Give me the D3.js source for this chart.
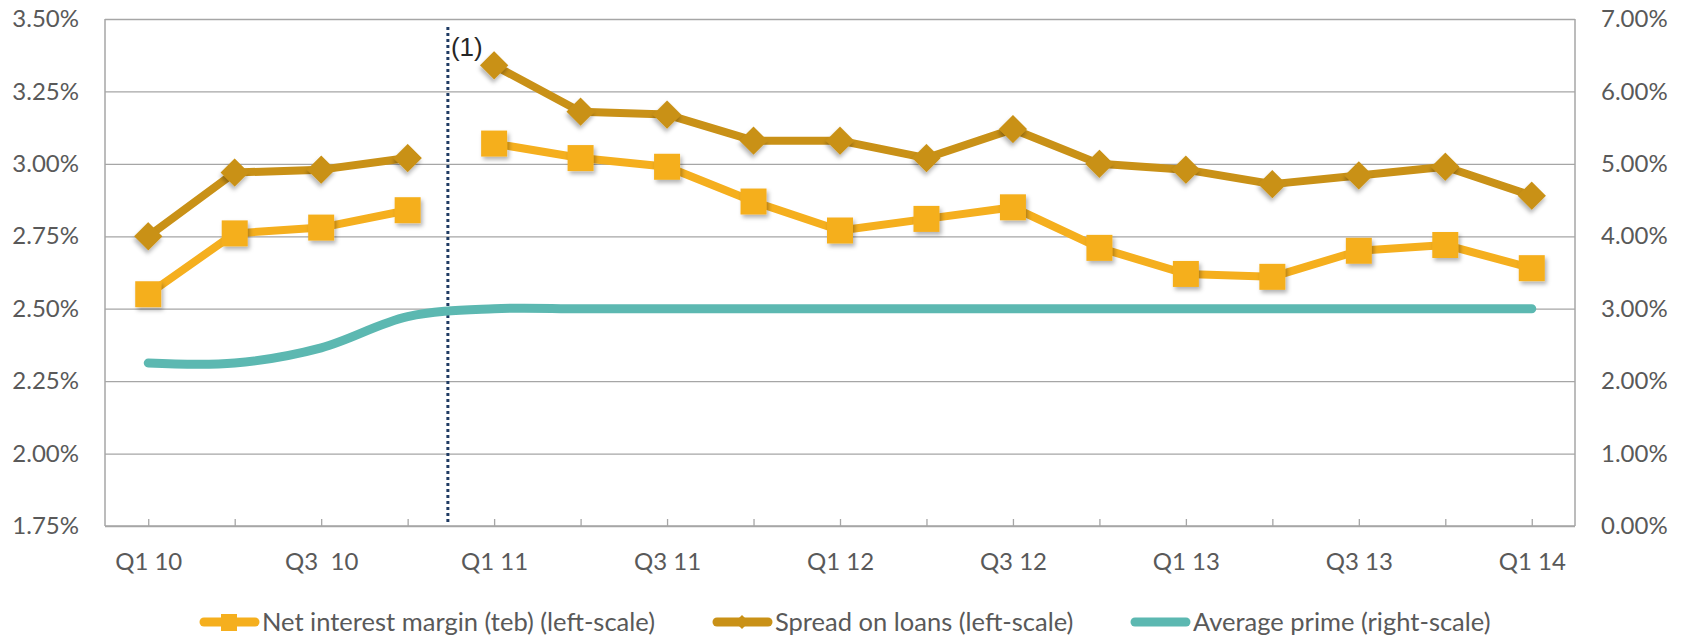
<!DOCTYPE html>
<html>
<head>
<meta charset="utf-8">
<script src="https://cdnjs.cloudflare.com/ajax/libs/d3/7.8.5/d3.min.js"></script>
<style>
  body { margin: 0; background: #fff; }
  text { font-family: Lato, "Open Sans", sans-serif; }
</style>
</head>
<body>
<script>
// chart values
const quarters = ["Q1 10","Q2 10","Q3 10","Q4 10","Q1 11","Q2 11","Q3 11","Q4 11","Q1 12","Q2 12","Q3 12","Q4 12","Q1 13","Q2 13","Q3 13","Q4 13","Q1 14"];
const tickLabels = ["Q1 10","","Q3  10","","Q1 11","","Q3 11","","Q1 12","","Q3 12","","Q1 13","","Q3 13","","Q1 14"];
const netInterestMargin = [2.55,2.76,2.78,2.84,3.07,3.02,2.99,2.87,2.77,2.81,2.85,2.71,2.62,2.61,2.70,2.72,2.64];
const spreadOnLoans = [2.75,2.97,2.98,3.02,3.34,3.18,3.17,3.08,3.08,3.02,3.12,3.00,2.98,2.93,2.96,2.99,2.89];
const averagePrime = [2.25,2.25,2.46,2.89,3.00,3.00,3.00,3.00,3.00,3.00,3.00,3.00,3.00,3.00,3.00,3.00,3.00];
const leftTicks = [1.75,2.00,2.25,2.50,2.75,3.00,3.25,3.50];
const rightTicks = [0,1,2,3,4,5,6,7];
const breakIndex = 4; // series restart at Q1 11, note (1)
const legendNames = ["Net interest margin (teb) (left-scale)","Spread on loans (left-scale)","Average prime (right-scale)"];

const W = 1683, H = 636;
const plot = {left: 105, right: 1575, top: 19, bottom: 526};

const nimColor = "#F5AF1E", spreadColor = "#C99117", primeColor = "#5CB8B1";

var svg = d3.select("body").append("svg")
    .attr("width", W)
    .attr("height", H);

// drop shadow for markers
svg.append("defs").append("filter")
    .attr("id", "shadow")
    .attr("x", "-50%").attr("y", "-50%").attr("width", "200%").attr("height", "200%")
  .append("feDropShadow")
    .attr("dx", 2).attr("dy", 3).attr("stdDeviation", 2)
    .attr("flood-color", "#000").attr("flood-opacity", 0.3);

var x = d3.scalePoint().domain(quarters).range([plot.left, plot.right]).padding(0.5);
var yL = d3.scaleLinear().domain([1.75, 3.5]).range([plot.bottom, plot.top]);
var yR = d3.scaleLinear().domain([0, 7]).range([plot.bottom, plot.top]);

// gridlines
svg.append("g")
    .attr("transform", `translate(${plot.left},0)`)
    .call(d3.axisLeft(yL).tickValues(leftTicks).tickSize(-(plot.right - plot.left)).tickFormat(""))
    .call(g => g.select(".domain").remove())
    .selectAll("line").attr("stroke", "#A6A6A6").attr("stroke-width", 1.3);

// left axis labels
svg.append("g")
    .attr("transform", `translate(${plot.left},0)`)
    .call(d3.axisLeft(yL).tickValues(leftTicks).tickSize(0).tickPadding(26).tickFormat(d => d.toFixed(2) + "%"))
    .call(g => g.select(".domain").remove())
    .selectAll("text").attr("fill", "#595959").style("font-size", "24px").style("font-family", "Lato");

// right axis labels
svg.append("g")
    .attr("transform", `translate(${plot.right},0)`)
    .call(d3.axisRight(yR).tickValues(rightTicks).tickSize(0).tickPadding(26).tickFormat(d => d.toFixed(2) + "%"))
    .call(g => g.select(".domain").remove())
    .selectAll("text").attr("fill", "#595959").style("font-size", "24px").style("font-family", "Lato");

// bottom axis, ticks pointing up
var xAxis = svg.append("g")
    .attr("transform", `translate(0,${plot.bottom})`)
    .call(d3.axisBottom(x).tickSize(-7).tickPadding(27).tickFormat((d, i) => tickLabels[i]))
    .call(g => g.select(".domain").remove());
xAxis.selectAll("line").attr("stroke", "#A6A6A6").attr("stroke-width", 1.3);
xAxis.selectAll("text").attr("fill", "#595959").style("font-size", "24px")
    .style("font-family", "Lato").style("white-space", "pre");

// frame lines
var frame = svg.append("g").attr("stroke", "#A6A6A6").attr("stroke-width", 1.5);
frame.append("line").attr("x1", plot.left).attr("x2", plot.left).attr("y1", plot.top).attr("y2", plot.bottom);
frame.append("line").attr("x1", plot.right).attr("x2", plot.right).attr("y1", plot.top).attr("y2", plot.bottom);
frame.append("line").attr("x1", plot.left).attr("x2", plot.right).attr("y1", plot.bottom).attr("y2", plot.bottom);

// dotted break line
var xBreak = (x(quarters[breakIndex - 1]) + x(quarters[breakIndex])) / 2 - 3;
svg.append("line")
    .attr("x1", xBreak).attr("x2", xBreak)
    .attr("y1", 27).attr("y2", plot.bottom - 4)
    .attr("stroke", "#1F3B63").attr("stroke-width", 3)
    .attr("stroke-dasharray", "3,3");

svg.append("text")
    .attr("x", xBreak + 3).attr("y", 56)
    .style("font-family", "'Liberation Sans', Arial, sans-serif")
    .style("font-size", "26px")
    .attr("fill", "#262626")
    .text("(1)");

// average prime (smoothed)
var primeLine = d3.line()
    .x((d, i) => x(quarters[i]))
    .y(d => yR(d))
    .curve(d3.curveCatmullRom.alpha(0.5));

svg.append("path")
    .datum(averagePrime)
    .attr("fill", "none")
    .attr("stroke", primeColor)
    .attr("stroke-width", 9)
    .attr("stroke-linecap", "round")
    .attr("d", primeLine);

// left-scale series, broken at Q1 11
function drawSeries(values, color, shape, size) {
    var pts = values.map((v, i) => ({q: quarters[i], v: v, i: i}));
    var line = d3.line().x(d => x(d.q)).y(d => yL(d.v));
    [pts.slice(0, breakIndex), pts.slice(breakIndex)].forEach(seg => {
        svg.append("path")
            .datum(seg)
            .attr("fill", "none")
            .attr("stroke", color)
            .attr("stroke-width", 8)
            .attr("stroke-linejoin", "round")
            .attr("d", line);
    });
    svg.append("g").selectAll("path")
        .data(pts)
        .enter().append("path")
        .attr("d", d3.symbol().type(d3.symbolSquare).size(size))
        .attr("transform", d => `translate(${x(d.q)},${yL(d.v)})` + (shape === "diamond" ? " rotate(45)" : ""))
        .attr("fill", color)
        .attr("filter", "url(#shadow)");
}

drawSeries(spreadOnLoans, spreadColor, "diamond", 400);
drawSeries(netInterestMargin, nimColor, "square", 676);

// legend
var legendX = [200, 713, 1131];
var legendColors = [nimColor, spreadColor, primeColor];
var legendY = 622;
var legend = svg.append("g");
legendNames.forEach((name, i) => {
    var g = legend.append("g").attr("transform", `translate(${legendX[i]},${legendY})`);
    g.append("line")
        .attr("x1", 4).attr("x2", 55)
        .attr("stroke", legendColors[i]).attr("stroke-width", 9)
        .attr("stroke-linecap", "round");
    if (i === 0) {
        g.append("rect").attr("x", 21).attr("y", -8).attr("width", 16).attr("height", 17).attr("fill", nimColor);
    } else if (i === 1) {
        g.append("path")
            .attr("d", d3.symbol().type(d3.symbolSquare).size(100))
            .attr("transform", "translate(29,0) rotate(45)")
            .attr("fill", spreadColor);
    }
    g.append("text")
        .attr("x", 62).attr("y", 0).attr("dy", "0.35em")
        .attr("fill", "#595959")
        .style("font-size", "25.5px")
        .text(name);
});
</script>
</body>
</html>
